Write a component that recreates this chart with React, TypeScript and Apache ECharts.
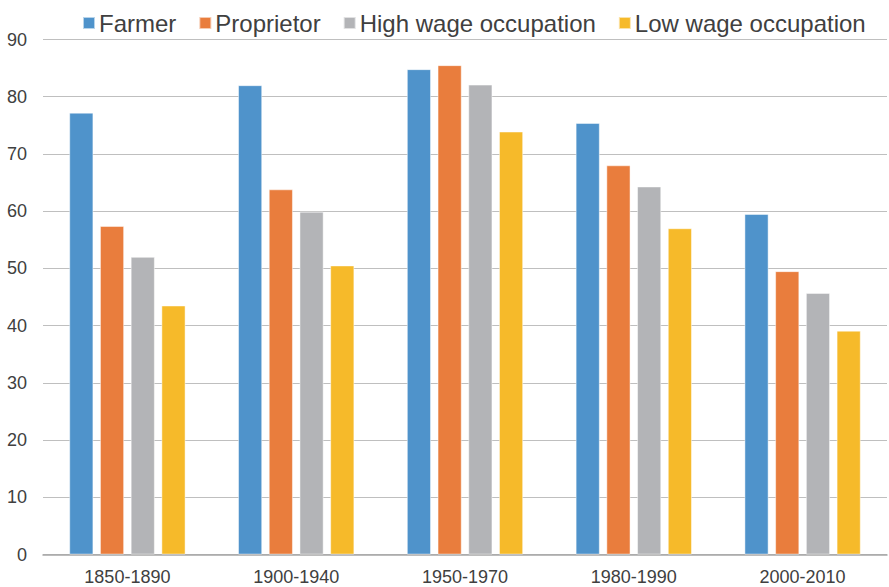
import React, { useEffect, useRef } from "react";
import * as echarts from "echarts";

const categories = ["1850-1890", "1900-1940", "1950-1970", "1980-1990", "2000-2010"];
const farmer = [77.2, 82.0, 84.8, 75.4, 59.5];
const proprietor = [57.4, 63.8, 85.5, 68.0, 49.5];
const highWage = [52.0, 59.9, 82.1, 64.3, 45.7];
const lowWage = [43.5, 50.5, 73.9, 57.0, 39.1];
const seriesNames = ["Farmer", "Proprietor", "High wage occupation", "Low wage occupation"];
const colors = ["#4F93CB", "#E97D3D", "#B3B4B7", "#F6BA2A"];

export default function App() {
  const ref = useRef<HTMLDivElement>(null);
  useEffect(() => {
    if (!ref.current) return;
    const chart = echarts.init(ref.current, null, { renderer: "svg" });
    const font = "'Liberation Sans', Arial, sans-serif";
    const data = [farmer, proprietor, highWage, lowWage];
    chart.setOption({
      animation: false,
      textStyle: { fontFamily: font },
      legend: {
        left: 77,
        top: 6,
        itemWidth: 12,
        itemHeight: 12,
        itemGap: 22,
        icon: "rect",
        textStyle: { fontSize: 24, color: "#404040", fontFamily: font, padding: [0, 0, 0, -1] },
        data: seriesNames,
      },
      grid: { left: 43, right: 2, top: 39.5, bottom: 32.5, containLabel: false },
      xAxis: {
        type: "category",
        data: categories,
        axisLine: { show: true, lineStyle: { color: "#A6A6A6", width: 1.5 } },
        axisTick: { show: false },
        axisLabel: { fontSize: 18, color: "#404040", margin: 13, fontFamily: font },
      },
      yAxis: {
        type: "value",
        min: 0,
        max: 90,
        interval: 10,
        axisLine: { show: false },
        axisTick: { show: false },
        axisLabel: { fontSize: 18, color: "#404040", margin: 16, fontFamily: font },
        splitLine: { lineStyle: { color: "#BFBFBF", width: 1.2 } },
      },
      series: seriesNames.map((name, i) => ({
        name,
        type: "bar",
        data: data[i],
        barWidth: 24,
        barGap: "28%",
        itemStyle: { color: colors[i], borderColor: "rgba(255,255,255,0.6)", borderWidth: 0.8 },
      })),
    });
    return () => chart.dispose();
  }, []);
  return <div ref={ref} style={{ width: 889, height: 587, position: "absolute", left: 0, top: 0 }} />;
}
